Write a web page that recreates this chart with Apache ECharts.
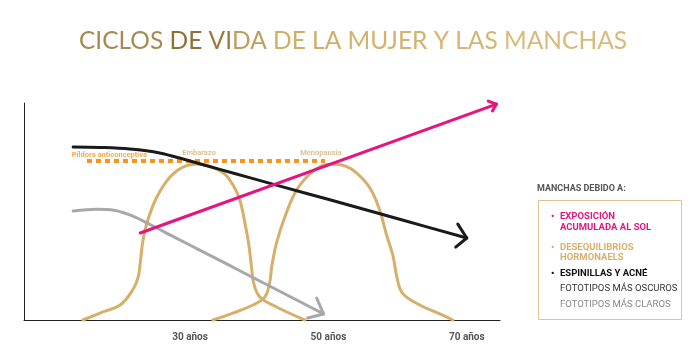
<!DOCTYPE html>
<html>
<head>
<meta charset="utf-8">
<script src="https://cdn.jsdelivr.net/npm/echarts@6/dist/echarts.min.js"></script>
<style>
  html, body { margin: 0; padding: 0; background: #fff; }
  #chart { width: 700px; height: 355px; }
</style>
</head>
<body>
<div id="chart"></div>
<script>
// x = edad (años), y = nivel (0-100, esquemático)
const ageTicks = [30, 50, 70];

const embarazo = [
  [14.5, 0], [17.4, 3.7], [19.9, 6.9], [21.7, 13.8], [22.5, 19.8], [22.8, 26.3],
  [23.2, 36.9], [23.9, 46.1], [25.2, 56.7], [27.1, 65.9], [29.0, 70.5], [31.0, 71.9],
  [33.1, 70.5], [35.0, 67.3], [36.3, 61.7], [37.2, 55.3], [37.9, 45.2], [38.5, 34.6],
  [38.9, 24.0], [39.2, 17.0], [40.1, 10.6], [42.5, 6.0], [46.6, 0]
];
const menopausia = [
  [33.3, 0], [36.2, 3.2], [39.1, 6.9], [40.8, 10.6], [41.5, 17.0], [41.8, 24.4],
  [42.5, 35.5], [43.7, 47.5], [45.4, 59.9], [47.3, 67.3], [49.0, 71.0], [50.6, 71.9],
  [52.4, 71.0], [54.1, 67.7], [56.0, 60.8], [57.4, 50.7], [58.4, 39.2], [59.3, 30.0],
  [59.9, 19.8], [60.7, 12.4], [63.2, 6.9], [66.1, 2.8], [68.0, 0]
];
const pildora = [[15.1, 73.3], [49.5, 73.3]];
const acne = [
  [13.1, 79.7], [17.0, 79.5], [21.3, 78.8], [25.6, 77.0], [29.5, 73.7], [34.3, 69.4],
  [38.6, 65.6], [43.0, 61.7], [50.2, 55.4], [60.3, 46.4], [70.0, 37.8]
];
const acneArrow = [[68.7, 44.2], [70.0, 37.8], [68.4, 33.6]];
const claros = [
  [13.1, 50.2], [16.5, 51.0], [19.0, 50.6], [21.3, 48.4], [23.8, 44.7], [27.8, 38.1],
  [31.4, 32.2], [38.6, 20.4], [45.9, 8.4], [49.3, 2.8]
];
const clarosArrow = [[48.3, 10.1], [49.3, 2.8], [47.0, 0.9]];
const sol = [[22.8, 40.1], [74.3, 99.5]];
const solArrow = [[73.1, 100.9], [74.3, 99.5], [73.7, 96.3]];
const notes = [
  { value: [12.9, 76.0], name: "Píldora anticonceptiva", color: "#f7941d", align: "left" },
  { value: [31.3, 77.0], name: "Embarazo", color: "#d2b074", align: "center" },
  { value: [48.9, 77.0], name: "Menopausia", color: "#d2b074", align: "center" }
];

const tan = "#d6b06a";
const pink = "#e4157f";
const grey = "#a8a8aa";

let myChart = echarts.init(document.getElementById("chart"));

function curve(data, color, smooth, z) {
  return {
    type: "line",
    data: data,
    symbol: "none",
    smooth: smooth,
    clip: false,
    silent: true,
    z: z,
    lineStyle: { color: color, width: 3, cap: "round", join: "round" },
  };
}

function note(x, y, text, color, weight) {
  return {
    type: "text",
    x: x,
    y: y,
    style: { text: text, font: (weight || "bold") + " 9.5px Roboto", fill: color, textVerticalAlign: "middle" },
  };
}

myChart.setOption({
  animation: false,
  grid: { left: 24, right: 200, top: 103, bottom: 35 },
  xAxis: {
    type: "value",
    min: 6,
    max: 74.8,
    axisLine: { lineStyle: { color: "#222", width: 1 } },
    axisTick: { show: false },
    splitLine: { show: false },
    axisLabel: {
      customValues: ageTicks,
      formatter: "{value} años",
      color: "#555",
      fontWeight: "bold",
      fontSize: 10,
      fontFamily: "Roboto",
      margin: 12,
    },
  },
  yAxis: {
    type: "value",
    min: 0,
    max: 100,
    axisLine: { show: true, lineStyle: { color: "#222", width: 1 } },
    axisTick: { show: false },
    axisLabel: { show: false },
    splitLine: { show: false },
  },
  series: [
    curve(embarazo, tan, 0.4, 2),
    curve(menopausia, tan, 0.4, 2),
    {
      type: "line",
      data: pildora,
      symbol: "none",
      clip: false,
      z: 3,
      lineStyle: { color: "#f7941d", width: 4, type: [5, 4] },
    },
    curve(acne, "#1a1a1a", 0.35, 4),
    curve(acneArrow, "#1a1a1a", false, 4),
    curve(claros, grey, 0.35, 5),
    curve(clarosArrow, grey, false, 5),
    curve(sol, pink, false, 6),
    curve(solArrow, pink, false, 6),
    {
      type: "scatter",
      data: notes.map((n) => ({
        value: n.value,
        name: n.name,
        label: { color: n.color, align: n.align },
      })),
      symbolSize: 0,
      z: 7,
      label: {
        show: true,
        position: "inside",
        formatter: "{b}",
        fontSize: 7.5,
        fontWeight: "bold",
        fontFamily: "Roboto",
      },
    },
  ],
  graphic: [
    {
      type: "text",
      x: 353,
      y: 41,
      style: {
        text: "{a|CICLOS }{b|DE }{c|VI}{d|DA }{e|DE LA }{f|MUJER }{g|Y LAS }{h|MANCHAS}",
        textAlign: "center",
        textVerticalAlign: "middle",
        font: "24.5px Lato",
        rich: {
          a: { fill: "#a68a52", font: "24.5px Lato" },
          b: { fill: "#8f7038", font: "24.5px Lato" },
          c: { fill: "#9b7a40", font: "24.5px Lato" },
          d: { fill: "#bf9d5c", font: "24.5px Lato" },
          e: { fill: "#d1ae68", font: "24.5px Lato" },
          f: { fill: "#d4b26e", font: "24.5px Lato" },
          g: { fill: "#d6b573", font: "24.5px Lato" },
          h: { fill: "#d9ba7a", font: "24.5px Lato" },
        },
      },
    },
    {
      type: "text",
      x: 537,
      y: 189,
      style: { text: "MANCHAS DEBIDO A:", font: "bold 9px Roboto", fill: "#555", textVerticalAlign: "middle" },
    },
    {
      type: "rect",
      shape: { x: 538.5, y: 200.5, width: 143, height: 119 },
      style: { fill: "none", stroke: "#dcc690", lineWidth: 1 },
    },
    note(551, 217, "•", pink),
    note(560, 217, "EXPOSICIÓN", pink),
    note(560, 228, "ACUMULADA AL SOL", pink),
    note(551, 248, "•", tan),
    note(560, 248, "DESEQUILIBRIOS", tan),
    note(560, 258, "HORMONAELS", tan),
    note(551, 274, "•", "#111"),
    note(560, 274, "ESPINILLAS Y ACNÉ", "#111"),
    note(560, 289, "FOTOTIPOS MÁS OSCUROS", "#333", "normal"),
    note(560, 305, "FOTOTIPOS MÁS CLAROS", "#888", "normal"),
  ],
});
</script>
</body>
</html>
